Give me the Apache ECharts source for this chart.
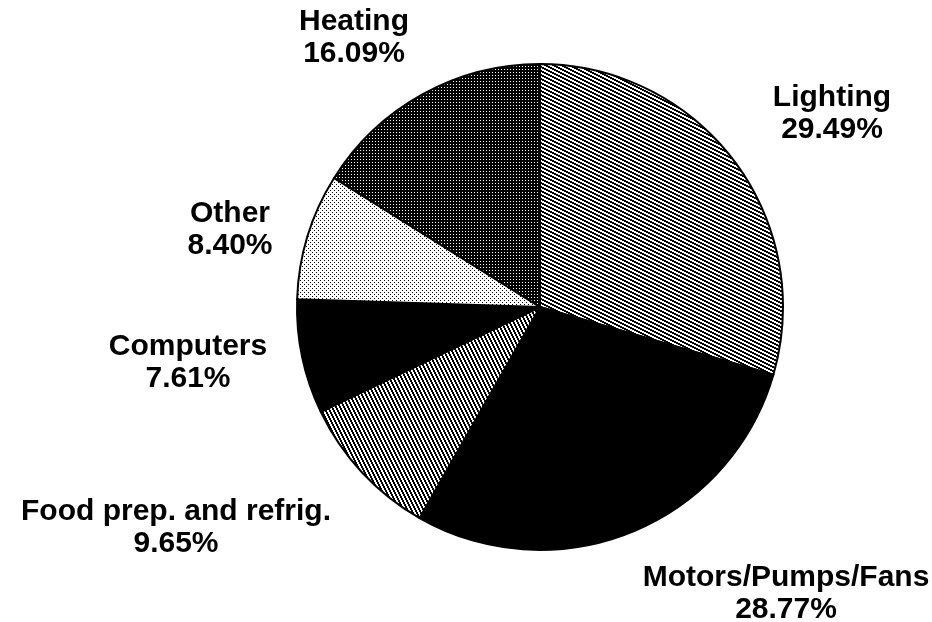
<!DOCTYPE html>
<html>
<head>
<meta charset="utf-8">
<script src="https://cdn.jsdelivr.net/npm/echarts@6/dist/echarts.min.js"></script>
<style>
  html, body { margin: 0; padding: 0; background: #fff; }
  #main { width: 932px; height: 622px; }
</style>
</head>
<body>
<div id="main"></div>
<script>
// slice names, clockwise from 12 o'clock
var categories = ['Lighting', 'Motors/Pumps/Fans', 'Food prep. and refrig.', 'Computers', 'Other', 'Heating'];
// share of electricity use, %
var shares = [29.49, 28.77, 9.65, 7.61, 8.40, 16.09];

/* build a small black/white tile for the fill patterns */
function makeTile(w, h, isBlack) {
  var c = document.createElement('canvas');
  c.width = w;
  c.height = h;
  var ctx = c.getContext('2d');
  var img = ctx.createImageData(w, h);
  for (var y = 0; y < h; y++) {
    for (var x = 0; x < w; x++) {
      var v = isBlack(x, y) ? 0 : 255;
      var i = (y * w + x) * 4;
      img.data[i] = v; img.data[i + 1] = v; img.data[i + 2] = v; img.data[i + 3] = 255;
    }
  }
  ctx.putImageData(img, 0, 0);
  return { image: c, repeat: 'repeat' };
}

var fills = {
  // shallow diagonal lines
  'Lighting': makeTile(8, 4, function (x, y) { return ((y - Math.floor(x / 2)) % 4 + 4) % 4 < 2; }),
  'Motors/Pumps/Fans': '#000',
  // steep diagonal lines
  'Food prep. and refrig.': makeTile(4, 8, function (x, y) { return ((x - Math.floor(y / 2)) % 4 + 4) % 4 < 2; }),
  'Computers': '#000',
  // light dots
  'Other': makeTile(4, 4, function (x, y) { return (x === 0 && y === 0) || (x === 2 && y === 2); }),
  // dark screen
  'Heating': makeTile(3, 3, function (x, y) { return !(x === 0 && y === 0) && !(x === 1 && y === 2 && false); })
};

// where each label block is centred
var labelPos = {
  'Lighting': [832, 114],
  'Motors/Pumps/Fans': [786, 594],
  'Food prep. and refrig.': [176, 528],
  'Computers': [188, 363],
  'Other': [230, 230],
  'Heating': [354, 38]
};

var chart = echarts.init(document.getElementById('main'), null, { renderer: 'canvas' });

var pieData = categories.map(function (name, i) {
  return { name: name, value: shares[i], itemStyle: { color: fills[name] } };
});

var option = {
  backgroundColor: '#fff',
  animation: false,
  series: [{
    type: 'pie',
    center: [540, 307],
    radius: 243,
    startAngle: 90,
    clockwise: true,
    itemStyle: {
      borderColor: '#000',
      borderWidth: 2
    },
    label: {
      show: true,
      position: 'outside',
      formatter: function (p) {
        return p.name + '\n' + p.value.toFixed(2) + '%';
      },
      fontFamily: 'Liberation Sans',
      fontWeight: 'bold',
      fontSize: 30,
      lineHeight: 32,
      color: '#000',
      align: 'center',
      overflow: 'none'
    },
    labelLine: { show: false },
    labelLayout: function (params) {
      var pos = labelPos[categories[params.dataIndex]];
      return {
        x: pos[0],
        y: pos[1],
        align: 'center',
        verticalAlign: 'middle'
      };
    },
    emphasis: { disabled: true },
    data: pieData
  }]
};

chart.setOption(option);
</script>
</body>
</html>
